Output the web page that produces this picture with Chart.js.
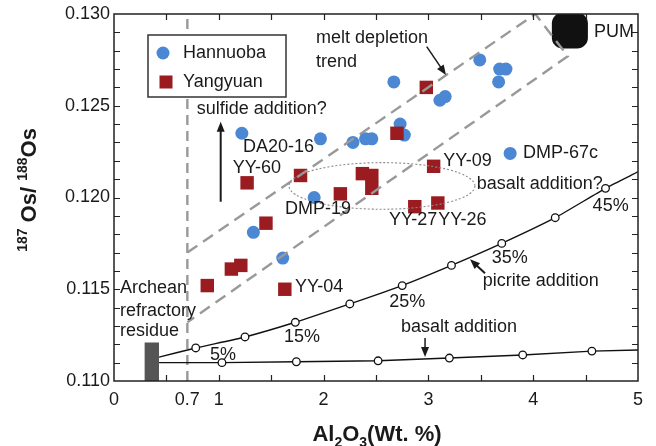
<!DOCTYPE html>
<html>
<head>
<meta charset="utf-8">
<script src="https://cdn.jsdelivr.net/npm/chart.js@4.4.1/dist/chart.umd.min.js"></script>
<style>
  html, body { margin: 0; padding: 0; background: #fff; }
</style>
</head>
<body>
<canvas id="osChart" width="656" height="446"></canvas>
<script>
// Al2O3 (wt.%) vs 187Os/188Os
const hannuobaAl = [1.22, 1.97, 2.28, 2.40, 2.46, 2.67, 2.73, 2.77, 3.11, 3.16, 3.49, 3.68, 3.74, 3.67, 3.78, 1.91, 1.33, 1.61];
const hannuobaOs = [0.1235, 0.1232, 0.1230, 0.1232, 0.1232, 0.1263, 0.1240, 0.1234, 0.1253, 0.1255, 0.1275, 0.1270, 0.1270, 0.1263, 0.1224, 0.1200, 0.1181, 0.1167];

const yangyuanAl = [2.98, 2.70, 1.27, 1.78, 2.37, 2.46, 2.46, 2.16, 3.05, 2.87, 3.09, 1.45, 1.21, 1.12, 0.89, 1.63];
const yangyuanOs = [0.1260, 0.1235, 0.1208, 0.1212, 0.1213, 0.1212, 0.1205, 0.1202, 0.1217, 0.1195, 0.1197, 0.1186, 0.1163, 0.1161, 0.1152, 0.1150];

const pumAl = [4.35];
const pumOs = [0.1291];

// mixing curves (open circles every 5 %)
const picriteAl = [0.43, 0.78, 1.25, 1.73, 2.25, 2.75, 3.22, 3.70, 4.21, 4.69, 5.0];
const picriteOs = [0.1113, 0.1118, 0.1124, 0.1132, 0.1142, 0.1152, 0.1163, 0.1175, 0.1189, 0.1205, 0.1214];
const basaltAl = [0.43, 1.03, 1.74, 2.52, 3.20, 3.90, 4.56, 5.0];
const basaltOs = [0.1110, 0.1110, 0.11105, 0.1111, 0.11125, 0.11142, 0.11163, 0.11169];

// melt depletion band, refractory residue bar, 0.7 cut-off
const bandAl = [0.70, 4.02, 4.33, 0.70];
const bandOs = [0.1170, 0.1300, 0.1277, 0.1132];
const residueAl = [0.29, 0.43];
const residueOs = [0.1121, 0.1121];
const cutoffAl = [0.7, 0.7];
const cutoffOs = [0.110, 0.130];

const xTicks = [0, 0.7, 1, 2, 3, 4, 5];
const yTicks = [0.110, 0.115, 0.120, 0.125, 0.130];

const zip = (xs, ys) => xs.map((v, i) => ({ x: v, y: ys[i] }));
const endsHidden = (n, r) => Array.from({ length: n }, (_, i) => (i === 0 || i === n - 1) ? 0 : r);

const FONT = "'Liberation Sans', Arial, Helvetica, sans-serif";
const INK = '#1a1a1a';
const BLUE = '#4b87d3';
const RED = '#9a1c20';

// text labels placed in data coordinates
const notes = [
  ['melt depletion', 1.927, 0.12869],
  ['trend', 1.927, 0.12738],
  ['PUM', 4.58, 0.12904],
  ['sulfide addition?', 0.789, 0.12482],
  ['DA20-16', 1.231, 0.12277],
  ['YY-60', 1.133, 0.12161],
  ['DMP-19', 1.632, 0.11937],
  ['YY-09', 3.142, 0.12201],
  ['DMP-67c', 3.903, 0.12244],
  ['basalt addition?', 3.461, 0.12074],
  ['YY-27', 2.624, 0.11877],
  ['YY-26', 3.094, 0.11877],
  ['35%', 3.604, 0.11670],
  ['picrite addition', 3.518, 0.11545],
  ['25%', 2.627, 0.11432],
  ['45%', 4.567, 0.11955],
  ['YY-04', 1.727, 0.11514],
  ['15%', 1.622, 0.11241],
  ['5%', 0.916, 0.11142],
  ['basalt addition', 2.739, 0.11294],
  ['Archean', 0.057, 0.11505],
  ['refractory', 0.057, 0.11381],
  ['residue', 0.057, 0.11274]
];
const arrows = [
  [2.984, 0.12822, 3.168, 0.12668, 1.5],
  [1.018, 0.11977, 1.018, 0.12413, 2],
  [3.540, 0.11587, 3.397, 0.11663, 2],
  [2.968, 0.11234, 2.968, 0.11131, 1.5]
];
const ellipse = { x: 2.557, y: 0.12063, rx: 0.887, ry: 0.00127 };

function arrow(ctx, x1, y1, x2, y2, w) {
  const ang = Math.atan2(y2 - y1, x2 - x1);
  const len = 10, half = 4;
  ctx.lineWidth = w;
  ctx.beginPath();
  ctx.moveTo(x1, y1);
  ctx.lineTo(x2 - Math.cos(ang) * len * 0.8, y2 - Math.sin(ang) * len * 0.8);
  ctx.stroke();
  ctx.beginPath();
  ctx.moveTo(x2, y2);
  ctx.lineTo(x2 - Math.cos(ang) * len + Math.sin(ang) * half, y2 - Math.sin(ang) * len - Math.cos(ang) * half);
  ctx.lineTo(x2 - Math.cos(ang) * len - Math.sin(ang) * half, y2 - Math.sin(ang) * len + Math.cos(ang) * half);
  ctx.closePath();
  ctx.fill();
}

const decor = {
  id: 'decor',
  afterDatasetsDraw(chart) {
    const { ctx, chartArea: a, scales: { x, y } } = chart;
    ctx.save();
    // dotted ellipse
    ctx.strokeStyle = '#8a8a8a';
    ctx.lineWidth = 1.1;
    ctx.setLineDash([2, 2]);
    ctx.beginPath();
    ctx.ellipse(x.getPixelForValue(ellipse.x), y.getPixelForValue(ellipse.y),
      x.getPixelForValue(ellipse.x + ellipse.rx) - x.getPixelForValue(ellipse.x),
      y.getPixelForValue(ellipse.y) - y.getPixelForValue(ellipse.y + ellipse.ry), 0, 0, Math.PI * 2);
    ctx.stroke();
    ctx.setLineDash([]);

    // notes
    ctx.fillStyle = INK;
    ctx.font = '18px ' + FONT;
    ctx.textBaseline = 'middle';
    ctx.textAlign = 'left';
    notes.forEach(n => ctx.fillText(n[0], x.getPixelForValue(n[1]), y.getPixelForValue(n[2])));

    ctx.strokeStyle = INK;
    arrows.forEach(r => arrow(ctx, x.getPixelForValue(r[0]), y.getPixelForValue(r[1]),
      x.getPixelForValue(r[2]), y.getPixelForValue(r[3]), r[4]));

    // legend box
    const lx = a.left + 34, ly = a.top + 21;
    ctx.fillStyle = '#fff';
    ctx.fillRect(lx, ly, 138, 62);
    ctx.strokeStyle = '#333';
    ctx.lineWidth = 1.5;
    ctx.strokeRect(lx, ly, 138, 62);
    ctx.fillStyle = BLUE;
    ctx.beginPath();
    ctx.arc(lx + 15, ly + 18, 6.5, 0, Math.PI * 2);
    ctx.fill();
    ctx.fillStyle = RED;
    ctx.fillRect(lx + 11.5, ly + 40.5, 13, 13);
    ctx.fillStyle = INK;
    ctx.fillText(chart.data.datasets[0].label, lx + 35, ly + 18);
    ctx.fillText(chart.data.datasets[1].label, lx + 35, ly + 47);
    ctx.restore();
  },
  afterDraw(chart) {
    const { ctx, chartArea: a, scales: { x, y } } = chart;
    ctx.save();
    ctx.strokeStyle = '#222';
    ctx.lineWidth = 1.5;
    ctx.strokeRect(a.left, a.top, a.right - a.left, a.bottom - a.top);
    ctx.lineWidth = 1.2;
    ctx.beginPath();
    for (let v = 0.5; v < 5; v += 0.5) {
      const px = Math.round(x.getPixelForValue(v)) + 0.5;
      ctx.moveTo(px, a.bottom); ctx.lineTo(px, a.bottom - 6);
      ctx.moveTo(px, a.top); ctx.lineTo(px, a.top + 6);
    }
    for (let k = 1; k < 20; k++) {
      const py = Math.round(y.getPixelForValue(0.110 + k * 0.001)) + 0.5;
      ctx.moveTo(a.left, py); ctx.lineTo(a.left + 6, py);
      ctx.moveTo(a.right, py); ctx.lineTo(a.right - 6, py);
    }
    ctx.stroke();

    // axis titles with sub/superscripts
    ctx.fillStyle = INK;
    ctx.textBaseline = 'alphabetic';
    ctx.textAlign = 'left';
    const big = 'bold 22px ' + FONT, small = 'bold 14px ' + FONT;
    const xParts = [['Al', big, 0], ['2', small, 6], ['O', big, 0], ['3', small, 6], ['(Wt. %)', big, 0]];
    let w = 0;
    xParts.forEach(p => { ctx.font = p[1]; w += ctx.measureText(p[0]).width; });
    let cx = 377 - w / 2;
    xParts.forEach(p => { ctx.font = p[1]; ctx.fillText(p[0], cx, 441 + p[2]); cx += ctx.measureText(p[0]).width; });

    ctx.translate(36, 190);
    ctx.rotate(-Math.PI / 2);
    const yParts = [['187', small, -9], [' Os/ ', big, 0], ['188', small, -9], ['Os', big, 0]];
    w = 0;
    yParts.forEach(p => { ctx.font = p[1]; w += ctx.measureText(p[0]).width; });
    cx = -w / 2;
    yParts.forEach(p => { ctx.font = p[1]; ctx.fillText(p[0], cx, p[2]); cx += ctx.measureText(p[0]).width; });
    ctx.restore();
  }
};

const ctx = document.getElementById('osChart').getContext('2d');
window.osChart = new Chart(ctx, {
  type: 'scatter',
  data: {
    datasets: [
      {
        label: 'Hannuoba', data: zip(hannuobaAl, hannuobaOs), order: 4,
        pointStyle: 'circle', pointRadius: 6.5, backgroundColor: BLUE, borderColor: BLUE, borderWidth: 0
      },
      {
        label: 'Yangyuan', data: zip(yangyuanAl, yangyuanOs), order: 3,
        pointStyle: 'rect', pointRadius: 9.5, backgroundColor: RED, borderColor: RED, borderWidth: 0
      },
      {
        label: 'PUM', data: zip(pumAl, pumOs), order: 2,
        pointStyle: 'rectRounded', pointRadius: 21, backgroundColor: '#111', borderColor: '#111', borderWidth: 0
      },
      {
        label: 'melt depletion trend', type: 'line', data: zip(bandAl, bandOs), order: 1,
        borderColor: '#999', borderWidth: 2.4, borderDash: [12, 7], pointRadius: 0, fill: false, tension: 0
      },
      {
        label: 'picrite addition', type: 'line', data: zip(picriteAl, picriteOs), order: 7,
        borderColor: '#111', borderWidth: 1.4, tension: 0.2, fill: false,
        pointRadius: endsHidden(picriteAl.length, 3.8), pointBackgroundColor: '#fff', pointBorderColor: '#111', pointBorderWidth: 1.3
      },
      {
        label: 'basalt addition', type: 'line', data: zip(basaltAl, basaltOs), order: 8,
        borderColor: '#111', borderWidth: 1.4, tension: 0, fill: false,
        pointRadius: endsHidden(basaltAl.length, 3.8), pointBackgroundColor: '#fff', pointBorderColor: '#111', pointBorderWidth: 1.3
      },
      {
        label: '0.7', type: 'line', data: zip(cutoffAl, cutoffOs), order: 9,
        borderColor: '#999', borderWidth: 2.4, borderDash: [10, 6], pointRadius: 0, fill: false
      },
      {
        label: 'Archean refractory residue', type: 'line', data: zip(residueAl, residueOs), order: 10,
        borderWidth: 0, pointRadius: 0, fill: 'start', backgroundColor: '#555'
      }
    ]
  },
  options: {
    responsive: false,
    animation: false,
    devicePixelRatio: 1,
    layout: { autoPadding: false, padding: { left: 0, right: 18, top: 14, bottom: 0 } },
    plugins: { legend: { display: false }, tooltip: { enabled: false } },
    scales: {
      x: {
        type: 'linear', min: 0, max: 5,
        grid: { display: false, drawTicks: false, tickLength: 0 }, border: { display: false },
        afterBuildTicks: s => { s.ticks = xTicks.map(v => ({ value: v })); },
        afterFit: s => { s.height = 65; s.paddingLeft = 0; s.paddingRight = 0; },
        ticks: { autoSkip: false, maxRotation: 0, padding: 8, color: INK, font: { family: FONT, size: 18 }, callback: v => String(v) }
      },
      y: {
        type: 'linear', min: 0.110, max: 0.130,
        grid: { display: false, drawTicks: false, tickLength: 0 }, border: { display: false },
        afterBuildTicks: s => { s.ticks = yTicks.map(v => ({ value: v })); },
        afterFit: s => { s.width = 114; s.paddingTop = 0; s.paddingBottom = 0; },
        ticks: { padding: 4, color: INK, font: { family: FONT, size: 18 }, callback: v => v.toFixed(3) }
      }
    }
  },
  plugins: [decor]
});
</script>
</body>
</html>
